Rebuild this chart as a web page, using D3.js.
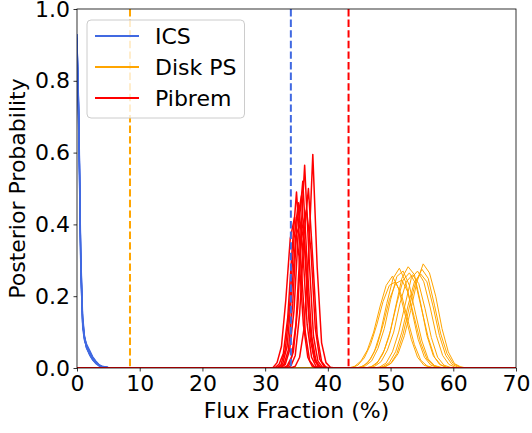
<!DOCTYPE html>
<html><head><meta charset="utf-8">
<script src="https://cdn.jsdelivr.net/npm/d3@7"></script>
<style>body{margin:0;background:#fff}text{font-family:"DejaVu Sans",sans-serif;fill:#000}</style>
</head><body><svg id="c" width="532" height="433"></svg>
<script>
const xTicks=[0,10,20,30,40,50,60,70];
const yTicks=[0,0.2,0.4,0.6,0.8,1.0];
const legendLabels=["ICS","Disk PS","Pibrem"];
const componentColors=["#4169e1","#ffa500","#ff0000"];
const refLines=[8.45,34.1,43.3];
const refLineColors=["#ffa500","#4169e1","#ff0000"];

// ICS posterior histograms (bin centres shared)
const icsX=[0,0.3,0.6,0.9,1.2,1.5,2,2.5,3,3.5,4,5,6];
const icsSeries=[
 [0.93,0.70,0.30,0.13,0.080,0.060,0.040,0.025,0.014,0.007,0.003,0.001,0],
 [0.91,0.66,0.28,0.12,0.085,0.065,0.045,0.028,0.016,0.008,0.004,0.001,0],
 [0.92,0.72,0.33,0.15,0.090,0.058,0.036,0.022,0.012,0.006,0.003,0.001,0],
 [0.90,0.64,0.27,0.11,0.075,0.062,0.048,0.030,0.018,0.009,0.004,0.001,0],
 [0.93,0.68,0.31,0.14,0.082,0.055,0.038,0.024,0.013,0.007,0.002,0.001,0],
 [0.89,0.62,0.26,0.12,0.088,0.068,0.050,0.032,0.020,0.010,0.005,0.002,0],
 [0.92,0.69,0.29,0.13,0.078,0.057,0.042,0.026,0.015,0.006,0.003,0.001,0],
 [0.90,0.67,0.32,0.14,0.086,0.063,0.044,0.029,0.017,0.009,0.004,0.001,0],
 [0.91,0.71,0.30,0.12,0.081,0.061,0.039,0.023,0.014,0.008,0.003,0.001,0]
];

// Disk PS posterior histograms: first bin centre, bin width 1.0
const diskBin=1.0;
const diskStarts=[43.3,44.4,45.8,48.2,45.0,46.0,47.3,44.8,48.0,46.5,43.8,47.8];
const diskSeries=[
 [0,0.005,0.02,0.05,0.10,0.17,0.23,0.256,0.22,0.15,0.08,0.03,0.008,0.002,0],
 [0,0.004,0.015,0.045,0.10,0.18,0.25,0.278,0.24,0.16,0.08,0.03,0.008,0.002,0],
 [0,0.003,0.012,0.04,0.09,0.17,0.25,0.282,0.26,0.18,0.09,0.035,0.01,0.002,0],
 [0,0.004,0.015,0.04,0.09,0.16,0.24,0.29,0.265,0.20,0.11,0.045,0.012,0.003,0],
 [0,0.006,0.02,0.055,0.11,0.19,0.255,0.27,0.23,0.15,0.075,0.025,0.007,0.002,0],
 [0,0.004,0.018,0.05,0.105,0.18,0.245,0.265,0.235,0.16,0.085,0.03,0.009,0.002,0],
 [0,0.003,0.014,0.045,0.10,0.175,0.25,0.27,0.24,0.17,0.09,0.035,0.01,0.002,0],
 [0,0.007,0.025,0.06,0.12,0.19,0.235,0.245,0.21,0.14,0.07,0.025,0.007,0.002,0],
 [0,0.003,0.012,0.04,0.095,0.17,0.24,0.275,0.25,0.175,0.095,0.04,0.012,0.003,0],
 [0,0.005,0.018,0.05,0.10,0.18,0.24,0.26,0.235,0.165,0.085,0.03,0.008,0.002,0],
 [0,0.008,0.028,0.065,0.12,0.185,0.23,0.24,0.20,0.13,0.065,0.022,0.006,0.001,0],
 [0,0.004,0.015,0.045,0.10,0.175,0.24,0.262,0.24,0.17,0.09,0.035,0.01,0.002,0]
];

// Pibrem posterior histograms: first bin centre, bin width 0.7
const pibBin=0.7;
const pibStarts=[31.5,31.8,32.8,34.1,32.5,32.1,33.1,32.3,33.4,31.2];
const pibSeries=[
 [0,0.01,0.04,0.14,0.33,0.49,0.30,0.10,0.02,0.004,0],
 [0,0.008,0.05,0.17,0.36,0.46,0.33,0.12,0.03,0.005,0],
 [0,0.006,0.03,0.12,0.34,0.565,0.31,0.09,0.02,0.003,0],
 [0,0.005,0.03,0.11,0.30,0.595,0.28,0.07,0.015,0.002,0],
 [0,0.01,0.05,0.16,0.38,0.52,0.29,0.09,0.02,0.003,0],
 [0,0.012,0.06,0.20,0.37,0.40,0.35,0.14,0.04,0.006,0],
 [0,0.008,0.045,0.17,0.39,0.44,0.33,0.11,0.025,0.004,0],
 [0,0.01,0.05,0.18,0.41,0.48,0.27,0.08,0.02,0.003,0],
 [0,0.006,0.035,0.15,0.37,0.50,0.30,0.09,0.018,0.002,0],
 [0,0.015,0.06,0.19,0.36,0.42,0.31,0.12,0.03,0.005,0]
];

const svg=d3.select("#c");
const L=77,R=516,T=9,B=368;
const x=d3.scaleLinear().domain([0,70]).range([L,R]);
const y=d3.scaleLinear().domain([0,1]).range([B,T]);
const FS=22;

const plot=svg.append("g");
svg.append("defs").append("clipPath").attr("id","clip").append("rect")
  .attr("x",L).attr("y",T).attr("width",R-L).attr("height",B-T);
plot.attr("clip-path","url(#clip)");

const line=d3.line().x(d=>x(d[0])).y(d=>y(d[1]));
function withEnds(pts){return [[0,0],...pts,[70,0]];}

icsSeries.forEach(s=>{
  const pts=s.map((v,i)=>[icsX[i],v]);
  plot.append("path").datum(withEnds(pts).slice(1)).attr("d",line)
    .attr("fill","none").attr("stroke",componentColors[0]).attr("stroke-width",1.2)
    .attr("stroke-linejoin","round");
});
diskSeries.forEach((s,k)=>{
  const pts=s.map((v,i)=>[diskStarts[k]+i*diskBin,v]);
  plot.append("path").datum(withEnds(pts)).attr("d",line)
    .attr("fill","none").attr("stroke",componentColors[1]).attr("stroke-width",1)
    .attr("stroke-linejoin","round");
});
pibSeries.forEach((s,k)=>{
  const pts=s.map((v,i)=>[pibStarts[k]+i*pibBin,v]);
  plot.append("path").datum(withEnds(pts)).attr("d",line)
    .attr("fill","none").attr("stroke",componentColors[2]).attr("stroke-width",1.5)
    .attr("stroke-linejoin","round");
});
refLines.forEach((v,i)=>{
  plot.append("line").attr("x1",x(v)).attr("x2",x(v)).attr("y1",T).attr("y2",B)
    .attr("stroke",refLineColors[i]).attr("stroke-width",2).attr("stroke-dasharray","7.4,3.2");
});

const xa=svg.append("g").attr("transform",`translate(0,${B})`)
  .call(d3.axisBottom(x).tickValues(xTicks).tickFormat(d3.format("d")).tickSize(3.5).tickPadding(3.5));
const ya=svg.append("g").attr("transform",`translate(${L},0)`)
  .call(d3.axisLeft(y).tickValues(yTicks).tickFormat(d3.format(".1f")).tickSize(3.5).tickPadding(3.5));
[xa,ya].forEach(a=>{a.select(".domain").remove();
  a.selectAll("text").attr("font-size",FS).attr("font-family","DejaVu Sans");
  a.selectAll("line").attr("stroke","#000").attr("stroke-width",0.8);});
svg.append("rect").attr("x",L).attr("y",T).attr("width",R-L).attr("height",B-T)
  .attr("fill","none").attr("stroke","#000").attr("stroke-width",0.8);

svg.append("text").attr("x",(L+R)/2).attr("y",418).attr("text-anchor","middle")
  .attr("font-size",FS).text("Flux Fraction (%)");
svg.append("text").attr("transform",`translate(25,${(T+B)/2}) rotate(-90)`)
  .attr("text-anchor","middle").attr("font-size",FS).text("Posterior Probability");

const lg=svg.append("g");
const box=lg.append("rect").attr("x",87).attr("y",20).attr("height",98).attr("rx",4)
  .attr("fill","#fff").attr("fill-opacity",0.8).attr("stroke","#ccc").attr("stroke-width",1);
const ys=[36,67,98];
let maxW=0;
legendLabels.forEach((t,i)=>{
  lg.append("line").attr("x1",95).attr("x2",139).attr("y1",ys[i]).attr("y2",ys[i])
    .attr("stroke",componentColors[i]).attr("stroke-width",2);
  const tx=lg.append("text").attr("x",155).attr("y",ys[i]).attr("dy","0.36em")
    .attr("font-size",FS).text(t);
  maxW=Math.max(maxW,tx.node().getComputedTextLength());
});
box.attr("width",155+maxW+8-87);
</script></body></html>
